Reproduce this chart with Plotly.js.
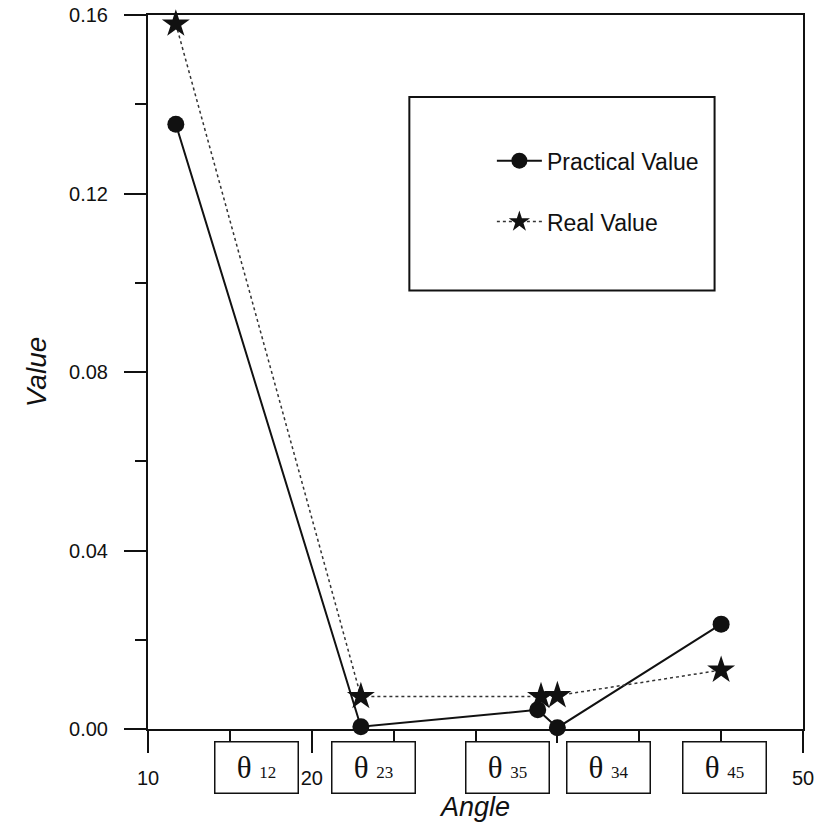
<!DOCTYPE html>
<html>
<head>
<meta charset="utf-8">
<script src="https://cdn.plot.ly/plotly-3.0.1.min.js"></script>
<style>html,body{margin:0;padding:0;background:#fff;}#chart{width:825px;height:830px;}</style>
</head>
<body>
<div id="chart"></div>
<script>
// ---- data ----
const practicalAngle = [11.7, 23, 33.8, 35, 45];
const practicalValue = [0.1355, 0.0005, 0.0043, 0.0003, 0.0235];
const realAngle = [11.7, 23, 34, 35, 45];
const realValue = [0.158, 0.0073, 0.0073, 0.0075, 0.0132];
const seriesNames = ['Practical Value', 'Real Value'];
const xTickVals = [10, 20, 30, 40, 50];
const xTickText = ['10', '20', '', '', '50'];
const yTickVals = [0, 0.04, 0.08, 0.12, 0.16];
const yTickText = ['0.00', '0.04', '0.08', '0.12', '0.16'];
const boxSubscripts = ['12', '23', '35', '34', '45'];
// annotation (label box) centres along the angle axis
const boxCentres = [16.65, 23.8, 31.95, 38.1, 45.2];

const traces = [
  {
    x: practicalAngle, y: practicalValue, name: seriesNames[0],
    type: 'scatter', mode: 'lines+markers', legendgroup: 'a',
    line: {color: '#111', width: 2},
    marker: {symbol: 'circle', size: 17, color: '#111'},
    cliponaxis: false
  },
  {
    x: realAngle, y: realValue, name: seriesNames[1],
    type: 'scatter', mode: 'lines+markers', legendgroup: 'b',
    line: {color: '#333', width: 1.5, dash: 'dot'},
    marker: {symbol: 'star', size: 21, color: '#111'},
    cliponaxis: false
  }
];

const annotations = boxSubscripts.map((s, i) => ({
  xref: 'x', yref: 'paper', x: boxCentres[i], y: 0,
  xanchor: 'center', yanchor: 'top', yshift: -12,
  text: 'θ <span style="font-size:17px">' + s + '</span>',
  showarrow: false,
  font: {family: 'Liberation Serif, serif', size: 31, color: '#111'},
  width: 82, height: 50, borderpad: 0,
  bordercolor: '#111', borderwidth: 1.5, bgcolor: '#fff', valign: 'middle'
}));

const layout = {
  width: 825, height: 830,
  margin: {l: 148, r: 22, t: 15, b: 101},
  paper_bgcolor: '#fff', plot_bgcolor: '#fff',
  showlegend: true,
  legend: {
    x: 0.525, y: 0.826, xanchor: 'left', yanchor: 'top',
    bgcolor: 'rgba(0,0,0,0)', borderwidth: 0,
    traceorder: 'grouped', tracegroupgap: 28, itemwidth: 45,
    font: {family: 'Liberation Sans, Arial, sans-serif', size: 23, color: '#111'}
  },
  xaxis: {
    range: [10, 50], showgrid: false, zeroline: false,
    showline: true, linecolor: '#111', linewidth: 2, mirror: true,
    ticks: 'outside', ticklen: 22, tickwidth: 2, tickcolor: '#111',
    tickvals: xTickVals, ticktext: xTickText, ticklabelstandoff: 8,
    minor: {dtick: 5, tick0: 10, ticks: 'outside', ticklen: 12, tickwidth: 2, tickcolor: '#111'},
    tickfont: {family: 'Liberation Sans, Arial, sans-serif', size: 20, color: '#111'},
    title: {text: '<i>Angle</i>', standoff: 9, font: {family: 'Liberation Sans, Arial, sans-serif', size: 27, color: '#111'}}
  },
  yaxis: {
    range: [0, 0.16], showgrid: false, zeroline: false,
    showline: true, linecolor: '#111', linewidth: 2, mirror: true,
    ticks: 'outside', ticklen: 22, tickwidth: 2, tickcolor: '#111',
    tickvals: yTickVals, ticktext: yTickText, ticklabelstandoff: 12,
    minor: {dtick: 0.02, tick0: 0, ticks: 'outside', ticklen: 11, tickwidth: 2, tickcolor: '#111'},
    tickfont: {family: 'Liberation Sans, Arial, sans-serif', size: 20, color: '#111'},
    title: {text: '<i>Value</i>', standoff: 14, font: {family: 'Liberation Sans, Arial, sans-serif', size: 28, color: '#111'}}
  },
  shapes: [{
    type: 'rect', xref: 'paper', yref: 'paper',
    x0: 0.399, x1: 0.865, y0: 0.614, y1: 0.885,
    line: {color: '#111', width: 2}, fillcolor: 'rgba(0,0,0,0)'
  }],
  annotations: annotations
};

Plotly.newPlot('chart', traces, layout, {displayModeBar: false, staticPlot: true});
</script>
</body>
</html>
